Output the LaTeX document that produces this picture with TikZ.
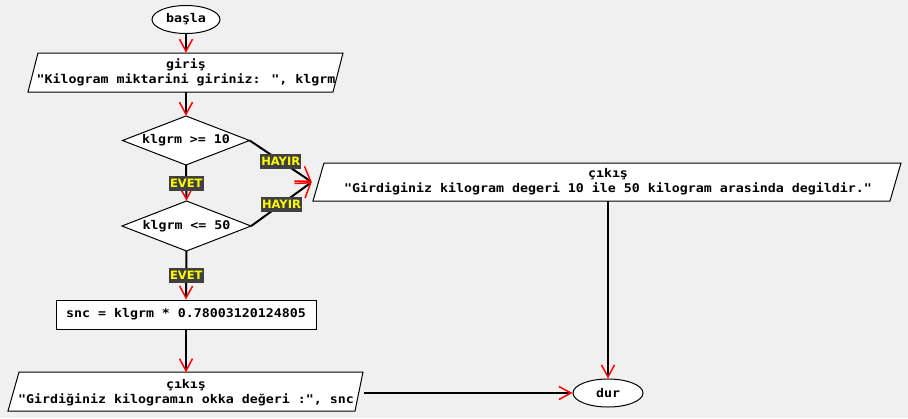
\documentclass[tikz,border=0pt]{standalone}
\usepackage{fontspec}
\newfontfamily\monof[FakeStretch=1.107]{DejaVu Sans Mono}
\newfontfamily\lblf{DejaVu Sans}
\usetikzlibrary{arrows.meta,shapes.geometric,calc}
\definecolor{bgc}{RGB}{240,240,240}
\definecolor{lblbg}{RGB}{64,64,64}
\definecolor{yel}{RGB}{255,255,0}
\tikzset{
  shp/.style={draw=black, line width=1pt, fill=white},
  txt/.style={font=\monof\bfseries\fontsize{12}{15}\selectfont, align=center, inner sep=0pt},
  conn/.style={line width=2pt, draw=black, -{Straight Barb[color=red,length=12pt,width=13pt,line width=1.5pt]}},
  conndiag/.style={line width=2pt, draw=black, -{Straight Barb[color=red,length=13.5pt,width=18pt,line width=1.5pt]}},
  lbl/.style={fill=lblbg, text=yel, font=\lblf\bfseries\fontsize{11.5}{13}\selectfont, inner xsep=1.2pt, inner ysep=0pt, minimum height=15pt}
}
\begin{document}
\begin{tikzpicture}[x=1pt,y=-1pt]
\useasboundingbox (0,0) rectangle (908,418);
\fill[bgc] (0,0) rectangle (908,418);
% start
\node[ellipse, shp, txt, minimum width=68pt, minimum height=28pt] (basla) at (186,19.5) {başla};
% input
\draw[shp] (38,53) -- (343,53) -- (333,92) -- (28,92) -- cycle;
\node[txt, minimum width=300pt, minimum height=39pt] (giris) at (186,72.5) {giriş\\"Kilogram miktarini giriniz: ", klgrm};
% decision 1
\draw[shp] (122.5,140.5) -- (186,116) -- (249.5,140.5) -- (186,165) -- cycle;
\node[txt, minimum width=127pt, minimum height=49pt] (d1) at (186,140.5) {klgrm >= 10};
% decision 2
\draw[shp] (122,226) -- (186.5,201) -- (251,226) -- (186.5,251) -- cycle;
\node[txt, minimum width=129pt, minimum height=50pt] (d2) at (186.5,226) {klgrm <= 50};
% process
\node[shp, txt, minimum width=260pt, minimum height=29pt] (snc) at (186,314.5) {snc = klgrm * 0.78003120124805};
% output 1
\draw[shp] (324,163) -- (901,163) -- (890,201) -- (313,201) -- cycle;
\node[txt, minimum width=592pt, minimum height=38pt] (cikis1) at (608,182) {çıkış\\"Girdiginiz kilogram degeri 10 ile 50 kilogram arasinda degildir."};
% output 2
\draw[shp] (19,372) -- (363,372) -- (355,411) -- (8,411) -- cycle;
\node[txt, minimum width=356pt, minimum height=41pt] (cikis2) at (186,393) {çıkış\\"Girdiğiniz kilogramın okka değeri :", snc};
% end
\node[ellipse, shp, txt, minimum width=70pt, minimum height=28pt] (dur) at (608,393) {dur};
% connectors
\draw[conn] (basla) -- (giris.north);
\draw[conn] (giris.south) -- (d1.north);
\draw[conn] (d1.south) -- node[lbl] {EVET} (d2.north);
\draw[conn] (d2.south) -- node[lbl] {EVET} (snc.north);
\draw[conn] (snc.south) -- (cikis2.north);
\draw[conn] (cikis2.east) -- (dur.west);
\draw[conn] (cikis1.south) -- (dur.north);
\draw[conndiag] (d1.east) -- node[lbl] {HAYIR} (cikis1.west);
\draw[conndiag] (d2.east) -- node[lbl] {HAYIR} (cikis1.west);
\end{tikzpicture}
\end{document}
